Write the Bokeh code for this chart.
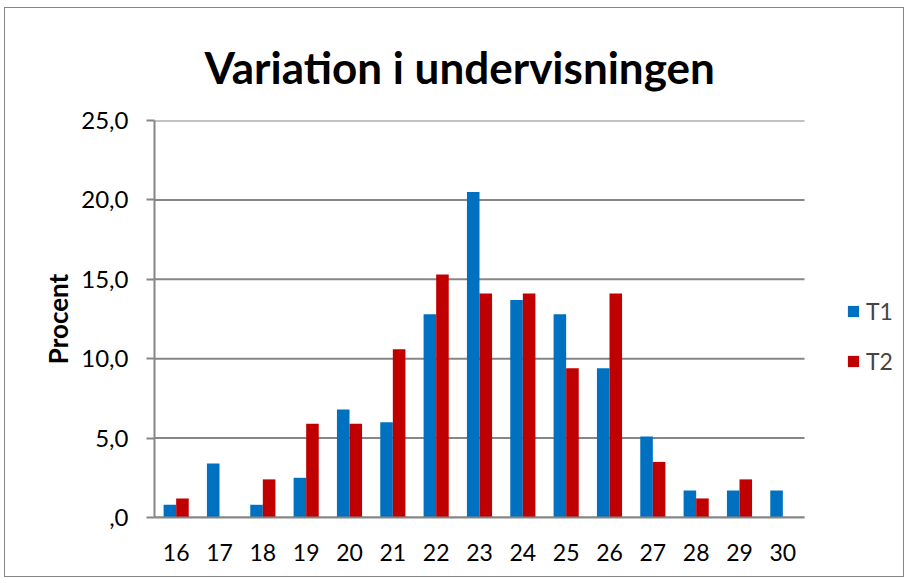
from bokeh.plotting import figure
from bokeh.models import ColumnDataSource, FixedTicker, Legend, LegendItem, Title
from bokeh.transform import dodge
from bokeh.embed import file_html
from bokeh.resources import INLINE

categories = ["16", "17", "18", "19", "20", "21", "22", "23", "24", "25", "26", "27", "28", "29", "30"]
t1 = [0.8, 3.4, 0.8, 2.5, 6.8, 6.0, 12.8, 20.5, 13.7, 12.8, 9.4, 5.1, 1.7, 1.7, 1.7]
t2 = [1.2, 0.0, 2.4, 5.9, 5.9, 10.6, 15.3, 14.1, 14.1, 9.4, 14.1, 3.5, 1.2, 2.4, 0.0]
series_names = ["T1", "T2"]
y_ticks = [0, 5, 10, 15, 20, 25]
y_tick_labels = [",0", "5,0", "10,0", "15,0", "20,0", "25,0"]
title_text = "Variation i undervisningen"
y_label = "Procent"

BLUE = "#0070C0"
RED = "#C00000"
GRID = "#868686"
FONT = "Lato"

n = len(categories)
pos = list(range(1, n + 1))
src = ColumnDataSource(dict(x=pos, t1=t1, t2=t2))

W, H = 900, 570
BL, BR, BT, BB = 149, 6, 112, 61
cat_px = 650.0  # width of the category area in pixels
frame_w = W - BL - BR
x_start = 0.5
x_end = x_start + n * frame_w / cat_px

p = figure(width=W, height=H, x_range=(x_start, x_end), y_range=(0, 25),
           output_backend="svg", toolbar_location=None,
           min_border_left=BL, min_border_right=BR, min_border_top=BT, min_border_bottom=BB)
p.margin = (7, 0, 0, 4)
p.styles = {"border": "1px solid #868686"}
p.outline_line_color = None
p.background_fill_color = "white"
p.border_fill_color = "white"

p.title = Title(text=title_text, align="left", offset=50, text_font=FONT, text_font_style="bold",
                text_font_size="44px", text_color="black", standoff=56)

# horizontal grid lines only across the category area
p.segment(x0=[x_start] * len(y_ticks), x1=[x_start + n] * len(y_ticks), y0=y_ticks, y1=y_ticks,
          line_color=GRID, line_width=2)

r1 = p.vbar(x=dodge("x", -0.145), top="t1", width=0.29, source=src,
            fill_color=BLUE, line_color=None)
r2 = p.vbar(x=dodge("x", 0.145), top="t2", width=0.29, source=src,
            fill_color=RED, line_color=None)

p.xgrid.grid_line_color = None
p.ygrid.grid_line_color = None

p.yaxis.ticker = FixedTicker(ticks=y_ticks)
p.yaxis.major_label_overrides = {t: l for t, l in zip(y_ticks, y_tick_labels)}
p.yaxis.axis_line_color = GRID
p.yaxis.axis_line_width = 2
p.yaxis.major_tick_line_color = GRID
p.yaxis.major_tick_line_width = 2
p.yaxis.major_tick_out = 8
p.yaxis.major_tick_in = 0
p.yaxis.minor_tick_line_color = None
p.yaxis.major_label_standoff = 18
p.yaxis.major_label_text_font = FONT
p.yaxis.major_label_text_font_size = "24px"
p.yaxis.major_label_text_color = "black"
p.yaxis.axis_label = y_label
p.yaxis.axis_label_text_font = FONT
p.yaxis.axis_label_text_font_style = "bold"
p.yaxis.axis_label_text_font_size = "26px"
p.yaxis.axis_label_standoff = 4
p.yaxis.axis_label_text_color = "black"

p.xaxis.bounds = (x_start, x_start + n)
p.xaxis.ticker = FixedTicker(ticks=pos)
p.xaxis.major_label_overrides = {x: c for x, c in zip(pos, categories)}
p.xaxis.axis_line_color = GRID
p.xaxis.axis_line_width = 2
p.xaxis.major_tick_line_color = None
p.xaxis.minor_tick_line_color = None
p.xaxis.major_tick_out = 0
p.xaxis.major_tick_in = 0
p.xaxis.major_label_standoff = 26
p.xaxis.major_label_text_font = FONT
p.xaxis.major_label_text_font_size = "23px"
p.xaxis.major_label_text_color = "black"

legend = Legend(items=[LegendItem(label=series_names[0], renderers=[r1]),
                       LegendItem(label=series_names[1], renderers=[r2])],
                location=(692, 142), orientation="vertical",
                glyph_width=14, glyph_height=14, label_standoff=6,
                label_text_font=FONT, label_text_font_size="23px",
                label_height=24, spacing=22, padding=0, margin=0,
                border_line_color=None, background_fill_alpha=0)
p.add_layout(legend, "center")

open("out.html", "w").write(file_html(p, INLINE))
